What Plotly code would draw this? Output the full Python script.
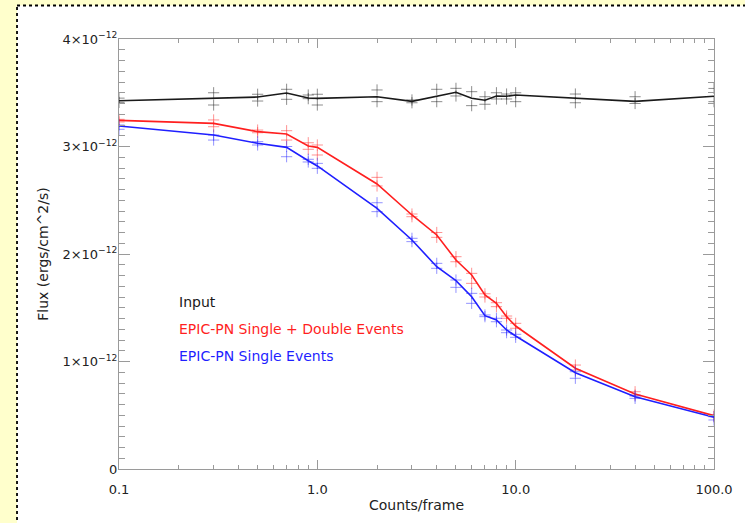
import plotly.graph_objects as go

# ---------------- data ----------------
counts = [0.1, 0.3, 0.5, 0.7, 0.9, 1.0, 2, 3, 4, 5, 6, 7, 8, 9, 10, 20, 40, 100]

# mean flux (units of 1e-12 ergs/cm^2/s)
input_flux = [3.426, 3.445, 3.46, 3.498, 3.451, 3.448, 3.463, 3.42, 3.47, 3.504,
              3.448, 3.43, 3.47, 3.467, 3.479, 3.448, 3.42, 3.467]
sd_flux = [3.243, 3.215, 3.138, 3.116, 3.005, 2.992, 2.651, 2.363, 2.177, 1.944,
           1.805, 1.619, 1.541, 1.417, 1.330, 0.937, 0.698, 0.496]
s_flux = [3.19, 3.107, 3.03, 2.992, 2.868, 2.819, 2.425, 2.13, 1.882, 1.752,
          1.603, 1.426, 1.386, 1.293, 1.237, 0.896, 0.673, 0.481]

# individual measurements (two per count rate)
input_pts_a = [3.45, 3.50, 3.486, 3.532, 3.479, 3.486, 3.526, 3.433, 3.532, 3.541,
               3.51, 3.463, 3.50, 3.488, 3.50, 3.488, 3.463, 3.54]
input_pts_b = [3.41, 3.386, 3.423, 3.439, 3.445, 3.386, 3.417, 3.407, 3.417, 3.47,
               3.38, 3.393, 3.442, 3.442, 3.417, 3.407, 3.40, 3.417]
sd_pts_a = [3.253, 3.247, 3.153, 3.147, 3.035, 3.014, 2.713, 2.372, 2.20, 1.975,
            1.82, 1.63, 1.547, 1.423, 1.355, 0.967, 0.719, 0.502]
sd_pts_b = [3.228, 3.184, 3.128, 3.06, 2.974, 2.921, 2.633, 2.347, 2.155, 1.928,
            1.727, 1.60, 1.51, 1.402, 1.309, 0.921, 0.688, 0.487]
s_pts_a = [3.20, 3.107, 3.045, 3.0, 2.881, 2.843, 2.477, 2.146, 1.913, 1.758,
           1.634, 1.433, 1.402, 1.293, 1.253, 0.905, 0.679, 0.487]
s_pts_b = [3.16, 3.06, 3.014, 2.905, 2.856, 2.797, 2.394, 2.115, 1.867, 1.69,
           1.541, 1.417, 1.370, 1.268, 1.225, 0.844, 0.657, 0.456]

series_names = ["Input", "EPIC-PN Single + Double Events", "EPIC-PN Single Events"]
series_colors = ["#1a1a1a", "#ff1f1f", "#1f1fff"]
cross_colors = ["rgba(30,30,30,0.5)", "rgba(255,40,40,0.5)", "rgba(40,40,255,0.5)"]

y_tickvals = [0, 1, 2, 3, 4]
y_ticktext = ["0", "1×10<sup>−12</sup>", "2×10<sup>−12</sup>",
              "3×10<sup>−12</sup>", "4×10<sup>−12</sup>"]
x_tickvals = [0.1, 1, 10, 100]
x_ticktext = ["0.1", "1.0", "10.0", "100.0"]

SCALE = 1e-12

# ---------------- figure ----------------
fig = go.Figure()

lines = [input_flux, sd_flux, s_flux]
pts = [(input_pts_a, input_pts_b), (sd_pts_a, sd_pts_b), (s_pts_a, s_pts_b)]

for name, line, (pa, pb), col, ccol in zip(series_names, lines, pts, series_colors, cross_colors):
    xs = counts + counts
    ys = [v * SCALE for v in pa + pb]
    fig.add_trace(go.Scatter(
        x=xs, y=ys, mode="markers", showlegend=False, hoverinfo="skip",
        marker=dict(symbol="cross-thin", size=8, line=dict(color=ccol, width=1)),
    ))
    fig.add_trace(go.Scatter(
        x=counts, y=[v * SCALE for v in line], mode="lines", name=name,
        showlegend=False, line=dict(color=col, width=1.6),
    ))

W, H = 745, 523
L, R, T, B = 119, 28, 39, 54
pw, ph = W - L - R, H - T - B


def px_x(p):
    return (p - L) / pw


def px_y(p):
    return (H - B - p) / ph


# yellow page with white panel and dotted border
fig.add_shape(type="rect", xref="paper", yref="paper",
              x0=px_x(16.5), x1=px_x(760), y0=px_y(5.5), y1=px_y(540),
              fillcolor="white", line=dict(color="black", width=1.8, dash="dot"),
              layer="below")

FONT = "DejaVu Sans, Verdana, sans-serif"

# text legend
legend_y = [302, 329, 356]
for name, col, yy in zip(series_names, series_colors, legend_y):
    fig.add_annotation(xref="paper", yref="paper", x=px_x(177), y=px_y(yy),
                       xanchor="left", yanchor="middle", showarrow=False,
                       text=name, font=dict(size=14, color=col, family=FONT))

axis_col = "#9a9a9a"
font_col = "#222222"

fig.update_xaxes(
    type="log", range=[-1, 2], tickvals=x_tickvals, ticktext=x_ticktext,
    ticks="inside", ticklen=9, tickcolor=axis_col, tickwidth=1,
    showline=True, linecolor=axis_col, linewidth=1.2, mirror="ticks",
    showgrid=False, zeroline=False,
    minor=dict(ticks="inside", ticklen=4, tickcolor=axis_col, dtick="D1", showgrid=False),
    tickfont=dict(size=13, color=font_col, family=FONT),
    ticklabelstandoff=8,
    title=dict(text="Counts/frame", font=dict(size=14, color=font_col, family=FONT), standoff=4),
)
fig.update_yaxes(
    range=[0, 4 * SCALE], tickvals=[v * SCALE for v in y_tickvals], ticktext=y_ticktext,
    ticks="inside", ticklen=11, tickcolor=axis_col, tickwidth=1,
    showline=True, linecolor=axis_col, linewidth=1.2, mirror="ticks",
    showgrid=False, zeroline=False,
    minor=dict(ticks="inside", ticklen=6, tickcolor=axis_col, dtick=0.1 * SCALE, showgrid=False),
    tickfont=dict(size=13, color=font_col, family=FONT),
    ticklabelstandoff=-2,
    title=dict(text="Flux (ergs/cm^2/s)", font=dict(size=14, color=font_col, family=FONT), standoff=10),
)

fig.update_layout(
    width=W, height=H,
    margin=dict(l=L, r=R, t=T, b=B),
    paper_bgcolor="#ffffcc", plot_bgcolor="white",
    font=dict(family=FONT),
    showlegend=False,
)

fig.write_html("out.html")
